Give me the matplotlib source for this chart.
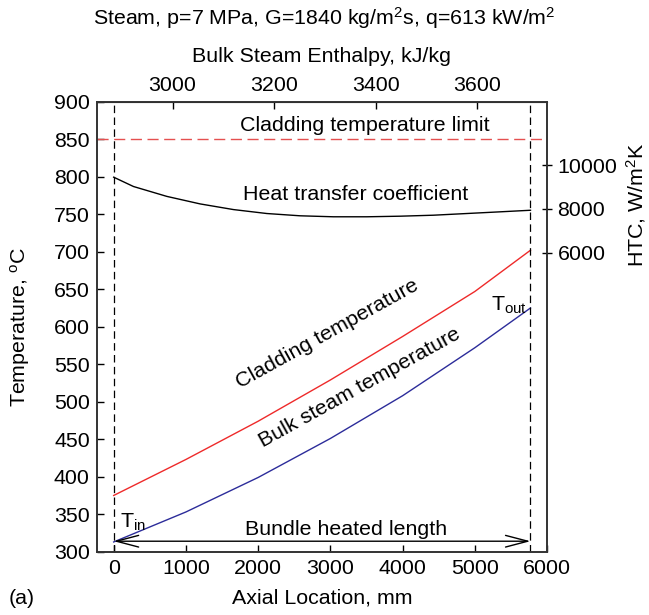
import numpy as np
import matplotlib
matplotlib.use("Agg")
from matplotlib import pyplot as plt

plt.rcParams["font.family"] = ["Liberation Sans", "DejaVu Sans"]
plt.rcParams["mathtext.fontset"] = "custom"
plt.rcParams["mathtext.rm"] = "Liberation Sans"
plt.rcParams["mathtext.default"] = "regular"

# axial location along the bundle, mm
axial_mm = [0, 1000, 2000, 3000, 4000, 5000, 5770]
# temperatures, deg C
cladding_temp = [375, 423, 474, 529, 587, 647, 702]
bulk_temp = [313, 353, 399, 451, 508, 572, 625]

# heat transfer coefficient, W/m2K
htc_mm = [0, 274, 736, 1197, 1658, 2120, 2581, 3042, 3504, 3965, 4426, 4888, 5349, 5770]
htc = [9445, 9020, 8569, 8226, 7968, 7788, 7684, 7639, 7639, 7666, 7711, 7788, 7865, 7937]

heated_start, heated_end = 0, 5770
enthalpy_in, enthalpy_out = 2884, 3705
temp_limit = 850

x_ticks = [0, 1000, 2000, 3000, 4000, 5000, 6000]
y_ticks = list(range(300, 901, 50))
h_ticks = [3000, 3200, 3400, 3600]
htc_ticks = [6000, 8000, 10000]


def mm_to_h(z):
    return enthalpy_in + (np.asarray(z) - heated_start) * (enthalpy_out - enthalpy_in) / (heated_end - heated_start)


def h_to_mm(h):
    return heated_start + (np.asarray(h) - enthalpy_in) * (heated_end - heated_start) / (enthalpy_out - enthalpy_in)


def main():
    W, H = 649, 615
    fig = plt.figure(figsize=(W / 100, H / 100), dpi=100)
    ax = fig.add_axes([0.149, 0.1029, 0.694, 0.7317])

    fs = 15.4
    ax.set_xlim(-235, 6000)
    ax.set_ylim(300, 900)
    ax.set_xticks(x_ticks)
    ax.set_yticks(y_ticks)
    ax.tick_params(direction="in", length=5, width=1, labelsize=fs, top=False, pad=5)

    ax.plot(axial_mm, cladding_temp, color="#ee2a2a", lw=1.0)
    ax.plot(axial_mm, bulk_temp, color="#2c2c9a", lw=1.0)
    ax.axhline(temp_limit, color="#e55050", lw=1.0, dashes=(8, 4))
    for z in (heated_start, heated_end):
        ax.axvline(z, color="black", lw=0.9, dashes=(6, 3.5))

    # bundle heated length arrow
    ax.annotate("", xy=(heated_end, 314), xytext=(heated_start, 314),
                arrowprops=dict(arrowstyle="<->,head_length=1.6,head_width=0.42",
                                color="black", lw=1.0, shrinkA=0, shrinkB=0))

    ax.text(1751, 868, "Cladding temperature limit", fontsize=fs, ha="left", va="center")
    ax.text(1792, 776, "Heat transfer coefficient", fontsize=fs, ha="left", va="center")
    ax.text(2960, 591, "Cladding temperature", fontsize=fs, ha="center", va="center", rotation=29)
    ax.text(3410, 519, "Bulk steam temperature", fontsize=fs, ha="center", va="center", rotation=29)
    ax.text(3218, 330, "Bundle heated length", fontsize=fs, ha="center", va="center")
    ax.text(90, 332, "T$_{in}$", fontsize=fs, ha="left", va="baseline")
    ax.text(5230, 622, "T$_{out}$", fontsize=fs, ha="left", va="baseline")

    ax.set_xlabel("Axial Location, mm", fontsize=fs, labelpad=8)
    fig.text(20 / W, 1 - 327 / H, "Temperature, $^{o}$C", fontsize=fs,
             rotation=90, ha="center", va="center")

    # heat transfer coefficient on its own scale
    ax2 = ax.twinx()
    ax2.plot(htc_mm, htc, color="black", lw=1.0)
    ax2.set_ylim(-7637, 12887)
    ax2.set_yticks(htc_ticks)
    ax2.tick_params(direction="inout", length=7, width=1, labelsize=fs, pad=4)
    fig.text(636 / W, 1 - 205 / H, "HTC, W/m$^2$K", fontsize=fs,
             rotation=90, ha="center", va="center")

    # enthalpy scale along the top
    sec = ax.secondary_xaxis("top", functions=(mm_to_h, h_to_mm))
    sec.set_xticks(h_ticks)
    sec.tick_params(direction="in", length=5, width=1, labelsize=fs, pad=5)
    sec.set_xlabel("Bulk Steam Enthalpy, kJ/kg", fontsize=fs, labelpad=10)

    for a in (ax, ax2):
        for s in a.spines.values():
            s.set_linewidth(1.2)
            s.set_color("#333333")

    fig.text(0.5, 1 - 18 / H, "Steam, p=7 MPa, G=1840 kg/m$^2$s, q=613 kW/m$^2$",
             fontsize=fs, ha="center", va="center")
    fig.text(9 / W, 1 - 598 / H, "(a)", fontsize=fs, ha="left", va="center")

    fig.savefig("out.png", dpi=100)


if __name__ == "__main__":
    main()
